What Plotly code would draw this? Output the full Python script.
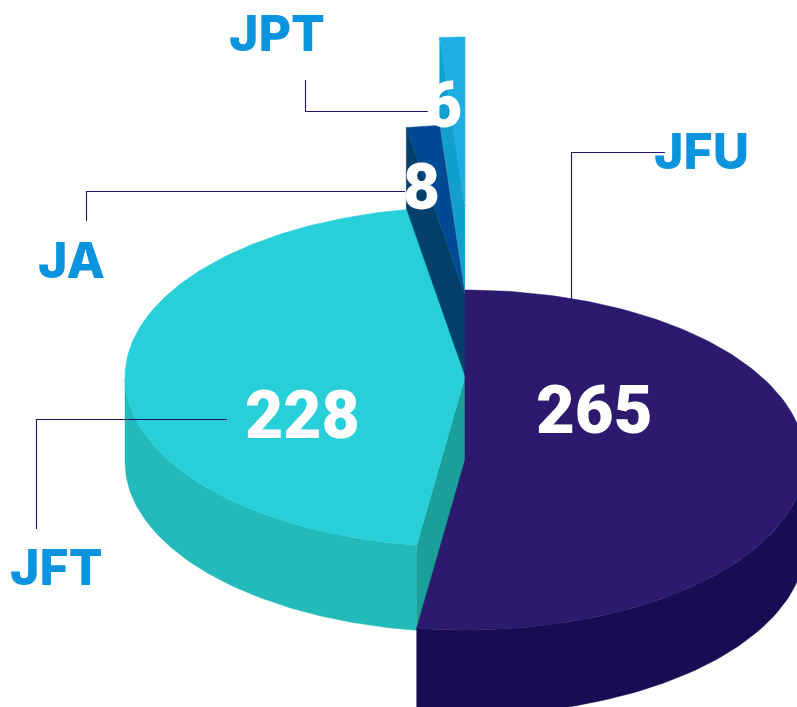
import numpy as np
import plotly.graph_objects as go

categories = ["JFU", "JFT", "JA", "JPT"]
values = [265, 228, 8, 6]

W, H = 797, 707
CX, RX, RY, WALL = 465, 340, 170, 85
center_y = {"JFU": 460, "JFT": 377, "JA": 295, "JPT": 207}
top_col = {"JFU": "#2b1a6e", "JFT": "#27d0d8", "JA": "#004a94", "JPT": "#1eaee3"}
wall_col = {"JFU": "#180d53", "JFT": "#22bbba", "JA": "#00406b", "JPT": "#119fcd"}
cut_col = {"JFU": "#180d53", "JFT": "#1a9f9a", "JA": "#00406b", "JPT": "#119fcd"}

total = sum(values)
spans = {}
a = 0.0
for c, v in zip(categories, values):
    spans[c] = (a, a + v / total * 2 * np.pi)
    a = spans[c][1]


def rim(t, cy):
    return CX + RX * np.sin(t), cy - RY * np.cos(t)


def poly(xs, ys, col):
    return go.Scatter(x=list(xs), y=list(ys), mode="lines", fill="toself",
                      fillcolor=col, line=dict(width=0.5, color=col),
                      hoverinfo="skip", showlegend=False)


fig = go.Figure()
for c in ["JPT", "JA", "JFT", "JFU"]:
    t0, t1 = spans[c]
    cy = center_y[c]
    t = np.linspace(t0, t1, 160)
    x, y = rim(t, cy)
    tw = t[np.cos(t) < 0]
    if len(tw):
        xw, yw = rim(tw, cy)
        fig.add_trace(poly(np.r_[xw, xw[::-1]], np.r_[yw, yw[::-1] + WALL], wall_col[c]))
    if c != "JFU":
        ex, ey = rim(t0, cy)
        fig.add_trace(poly([CX, ex, ex, CX], [cy, ey, ey + WALL, cy + WALL], cut_col[c]))
    fig.add_trace(poly(np.r_[CX, x, CX], np.r_[cy, y, cy], top_col[c]))

leaders = [
    ([305.5, 305.5, 430], [80, 111.5, 111.5]),
    ([86.5, 86.5, 405], [221, 191.5, 191.5]),
    ([571.5, 571.5, 665], [300, 152.5, 152.5]),
    ([36.5, 36.5, 227], [529, 419.5, 419.5]),
]
for lx, ly in leaders:
    fig.add_trace(go.Scatter(x=lx, y=ly, mode="lines", hoverinfo="skip", showlegend=False,
                             line=dict(color="#23136e", width=1.1)))

name_pos = {"JPT": (277, 33), "JA": (71, 260), "JFU": (701, 151), "JFT": (56, 567)}
value_pos = {"JPT": (446, 105), "JA": (421, 187), "JFU": (594, 410), "JFT": (302, 415)}
value_pos["JPT"] = (443, 105)
value_size = {"JPT": 64, "JA": 64, "JFU": 67, "JFT": 66}
ann = []
for c, v in zip(categories, values):
    ann.append(dict(x=name_pos[c][0], y=name_pos[c][1], text=c, showarrow=False,
                    xanchor="center", yanchor="middle",
                    font=dict(family="Inter", size=50, color="#0a94df", weight=800)))
    ann.append(dict(x=value_pos[c][0], y=value_pos[c][1], text=str(v), showarrow=False,
                    xanchor="center", yanchor="middle",
                    font=dict(family="Roboto", size=value_size[c], color="#ffffff", weight=900)))

fig.update_layout(
    width=W, height=H, margin=dict(l=0, r=0, t=0, b=0),
    paper_bgcolor="white", plot_bgcolor="white", showlegend=False,
    xaxis=dict(range=[0, W], visible=False, fixedrange=True),
    yaxis=dict(range=[H, 0], visible=False, fixedrange=True),
    annotations=ann,
)
fig.write_html("out.html", config={"displayModeBar": False},
               post_script="document.body.style.margin='0';document.body.style.overflow='hidden';")
